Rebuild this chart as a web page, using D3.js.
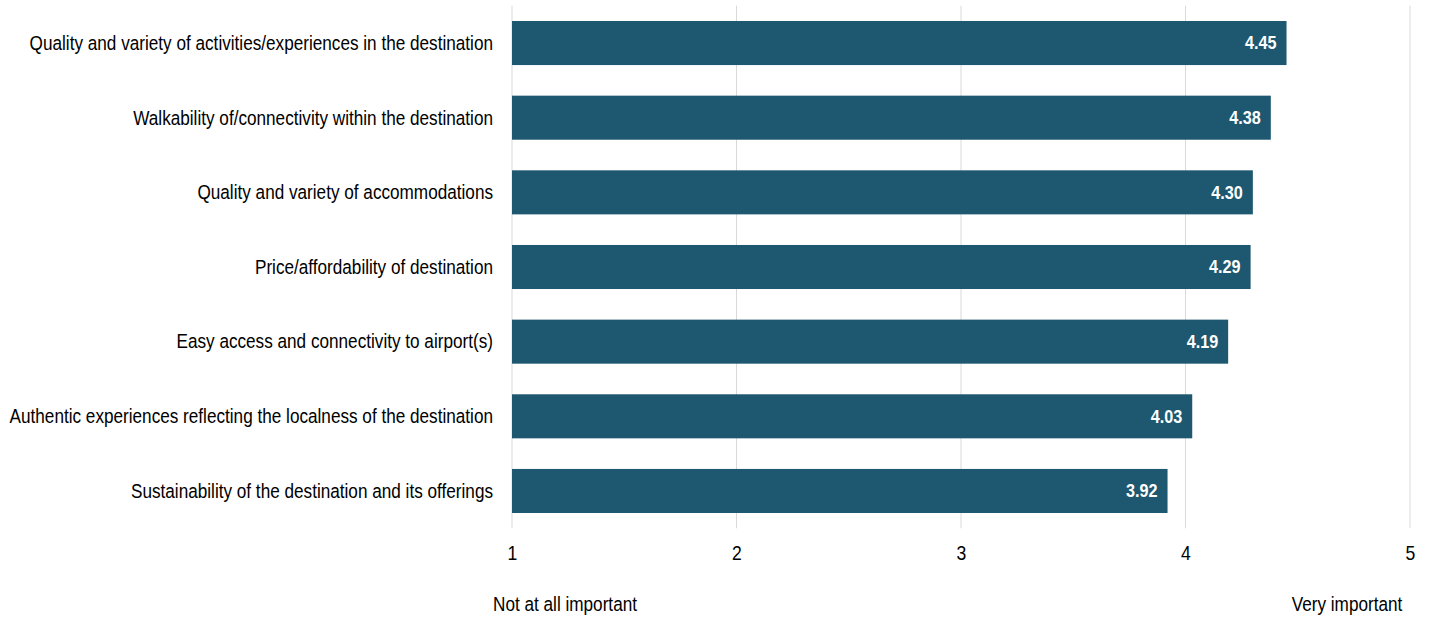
<!DOCTYPE html>
<html><head><meta charset="utf-8">
<script src="https://cdn.jsdelivr.net/npm/d3@7"></script>
<style>
html,body{margin:0;padding:0;background:#fff;}
svg text{font-family:"Liberation Sans",Arial,sans-serif;}
</style></head>
<body><svg id="chart" width="1429" height="618"></svg>
<script>
const categories = [
  "Quality and variety of activities/experiences in the destination",
  "Walkability of/connectivity within the destination",
  "Quality and variety of accommodations",
  "Price/affordability of destination",
  "Easy access and connectivity to airport(s)",
  "Authentic experiences reflecting the localness of the destination",
  "Sustainability of the destination and its offerings"
];
const values = [4.45, 4.38, 4.30, 4.29, 4.19, 4.03, 3.92];
const tickValues = [1, 2, 3, 4, 5];
const scaleLabels = ["Not at all important", "Very important"];

const SX = 0.88, SXB = 0.9;
const svg = d3.select("#chart");
const x = d3.scaleLinear().domain([1, 5]).range([512, 1410]);
const y = d3.scaleBand().domain(categories).range([5.7, 528.3]).paddingInner(0.41).paddingOuter(0.205);

// gridlines
svg.append("g").selectAll("line").data(tickValues).join("line")
  .attr("x1", d => x(d)).attr("x2", d => x(d))
  .attr("y1", 5.7).attr("y2", 528.3)
  .attr("stroke", "#d9d9d9").attr("stroke-width", 1);

// bars
svg.append("g").selectAll("rect").data(values).join("rect")
  .attr("x", x(1)).attr("y", (d, i) => y(categories[i]))
  .attr("width", d => x(d) - x(1)).attr("height", y.bandwidth())
  .attr("fill", "#1d5870");

// value labels
svg.append("g").selectAll("text").data(values).join("text")
  .attr("transform", (d, i) => `translate(${x(d) - 10},${y(categories[i]) + y.bandwidth() / 2}) scale(${SXB},1)`)
  .attr("dy", "0.35em").attr("text-anchor", "end")
  .attr("fill", "#fff").attr("font-weight", "bold").attr("font-size", 18)
  .text(d => d.toFixed(2));

// category labels
svg.append("g").selectAll("text").data(categories).join("text")
  .attr("transform", d => `translate(493,${y(d) + y.bandwidth() / 2}) scale(${SX},1)`)
  .attr("dy", "0.35em").attr("text-anchor", "end")
  .attr("fill", "#000").attr("font-size", 19.5)
  .text(d => d);

// x axis tick labels
const axis = d3.axisBottom(x).tickValues(tickValues).tickSize(0).tickPadding(0).tickFormat(d3.format("d"));
const ax = svg.append("g").attr("transform", "translate(0,546)").call(axis);
ax.select(".domain").remove();
ax.selectAll("text").attr("font-size", 20).attr("fill", "#000")
  .attr("transform", `scale(${SX},1)`);
ax.attr("font-family", null);

// scale end labels
svg.append("text").attr("transform", `translate(565,611) scale(${SX},1)`).attr("text-anchor", "middle")
  .attr("font-size", 19.5).attr("fill", "#000").text(scaleLabels[0]);
svg.append("text").attr("transform", `translate(1347,611) scale(${SX},1)`).attr("text-anchor", "middle")
  .attr("font-size", 19.5).attr("fill", "#000").text(scaleLabels[1]);
</script></body></html>
